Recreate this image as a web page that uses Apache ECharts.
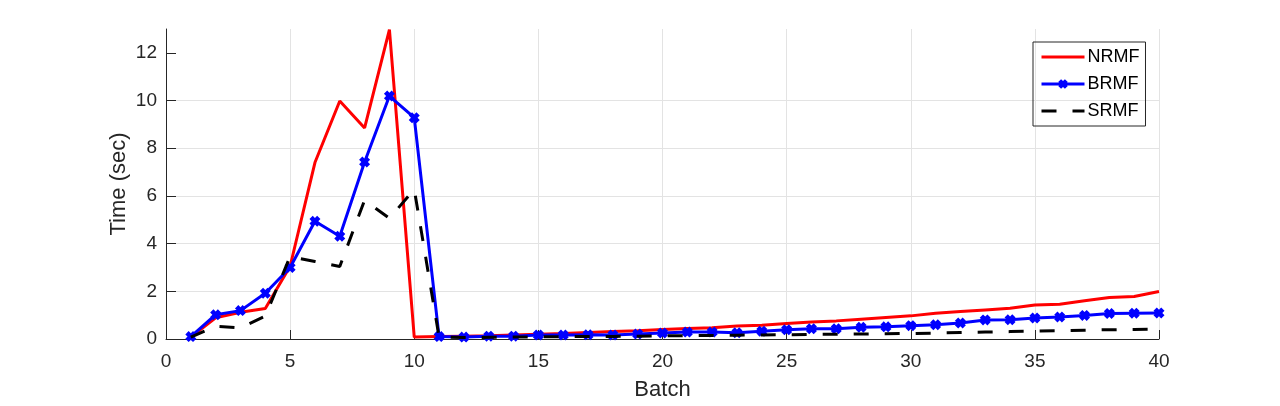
<!DOCTYPE html>
<html>
<head>
<meta charset="utf-8">
<script src="https://cdn.jsdelivr.net/npm/echarts@6/dist/echarts.min.js"></script>
<style>
  html, body { margin: 0; padding: 0; background: #fff; }
  #chart { width: 1280px; height: 406px; }
</style>
</head>
<body>
<div id="chart"></div>
<script>
// batch numbers
const batches = [1, 2, 3, 4, 5, 6, 7, 8, 9, 10, 11, 12, 13, 14, 15, 16, 17, 18, 19, 20,
  21, 22, 23, 24, 25, 26, 27, 28, 29, 30, 31, 32, 33, 34, 35, 36, 37, 38, 39, 40]

// time (sec) per batch
const nrmf = [0.08, 0.89, 1.12, 1.28, 3.05, 7.4, 9.98, 8.85, 12.97, 0.08,
  0.1, 0.12, 0.14, 0.17, 0.2, 0.23, 0.27, 0.31, 0.35, 0.4,
  0.44, 0.47, 0.55, 0.58, 0.65, 0.71, 0.76, 0.83, 0.9, 0.97,
  1.08, 1.15, 1.22, 1.29, 1.43, 1.46, 1.6, 1.74, 1.78, 1.99]
const brmf = [0.1, 1.02, 1.19, 1.92, 3.0, 4.94, 4.31, 7.42, 10.19, 9.28,
  0.1, 0.08, 0.12, 0.12, 0.17, 0.17, 0.18, 0.17, 0.21, 0.25,
  0.29, 0.29, 0.26, 0.33, 0.39, 0.43, 0.43, 0.49, 0.51, 0.56,
  0.6, 0.67, 0.8, 0.81, 0.88, 0.92, 0.99, 1.07, 1.08, 1.09]
const srmf = [0.08, 0.54, 0.47, 0.96, 3.46, 3.25, 3.04, 5.82, 5.06, 6.28,
  0.08, 0.06, 0.07, 0.08, 0.09, 0.1, 0.1, 0.11, 0.12, 0.13,
  0.14, 0.15, 0.16, 0.17, 0.18, 0.19, 0.2, 0.21, 0.22, 0.23,
  0.25, 0.27, 0.29, 0.31, 0.33, 0.35, 0.37, 0.39, 0.4, 0.42]

const xTicks = [0, 5, 10, 15, 20, 25, 30, 35, 40]
const yTicks = [0, 2, 4, 6, 8, 10, 12]

const font = "'Liberation Sans', Arial, sans-serif"
const axisColor = '#262626'
const gridColor = '#e3e3e3'
// bold "x" marker, like matlab's 'x' drawn with a thick line
const crossPath = 'path://M0,3 L3,0 L5,2 L7,0 L10,3 L8,5 L10,7 L7,10 L5,8 L3,10 L0,7 L2,5 Z'

const pairs = ys => batches.map((b, i) => [b, ys[i]])

const chart = echarts.init(document.getElementById('chart'))

chart.setOption({
  animation: false,
  textStyle: { fontFamily: font },
  grid: { left: 166, right: 121, top: 29, bottom: 65 },
  legend: {
    orient: 'vertical',
    left: 1033,
    top: 42,
    padding: [6, 6, 6, 7],
    borderColor: '#262626',
    borderWidth: 1,
    itemWidth: 43,
    itemHeight: 12,
    itemGap: 9,
    lineStyle: { width: 3 },
    textStyle: { fontSize: 18, color: '#000', fontFamily: font, padding: [0, 0, 0, -2] },
    data: [
      { name: 'NRMF', itemStyle: { opacity: 0 } },
      { name: 'BRMF' },
      { name: 'SRMF', itemStyle: { opacity: 0 } }
    ]
  },
  xAxis: {
    type: 'value',
    min: 0,
    max: 40,
    interval: 5,
    name: 'Batch',
    nameLocation: 'middle',
    nameGap: 40,
    nameMoveOverlap: false,
    nameTextStyle: { fontSize: 22, color: axisColor },
    axisLine: { onZero: false, lineStyle: { color: axisColor, width: 1 } },
    axisTick: { inside: true, length: 9, lineStyle: { color: axisColor } },
    axisLabel: {
      fontSize: 19, color: axisColor, margin: 13,
      customValues: xTicks
    },
    splitLine: { show: true, lineStyle: { color: gridColor, width: 1 } }
  },
  yAxis: {
    type: 'value',
    min: 0,
    max: 13,
    interval: 2,
    name: 'Time (sec)',
    nameLocation: 'middle',
    nameGap: 36,
    nameMoveOverlap: false,
    nameTextStyle: { fontSize: 22, color: axisColor },
    axisLine: { show: true, onZero: false, lineStyle: { color: axisColor, width: 1 } },
    axisTick: { show: true, inside: true, length: 10, lineStyle: { color: axisColor }, customValues: yTicks },
    axisLabel: {
      fontSize: 19, color: axisColor, margin: 9,
      customValues: yTicks
    },
    splitLine: { show: true, showMaxLine: false, lineStyle: { color: gridColor, width: 1 } }
  },
  series: [
    {
      name: 'NRMF',
      type: 'line',
      data: pairs(nrmf),
      symbol: 'none',
      z: 2,
      itemStyle: { color: '#ff0000' },
      lineStyle: { color: '#ff0000', width: 3 }
    },
    {
      name: 'BRMF',
      type: 'line',
      data: pairs(brmf),
      symbol: crossPath,
      symbolSize: 11,
      showAllSymbol: true,
      z: 3,
      itemStyle: { color: '#0000ff', borderWidth: 0 },
      lineStyle: { color: '#0000ff', width: 3 }
    },
    {
      name: 'SRMF',
      type: 'line',
      data: pairs(srmf),
      symbol: 'none',
      z: 4,
      itemStyle: { color: '#000' },
      lineStyle: { color: '#000', width: 3, type: [15, 16] }
    }
  ]
})
</script>
</body>
</html>
